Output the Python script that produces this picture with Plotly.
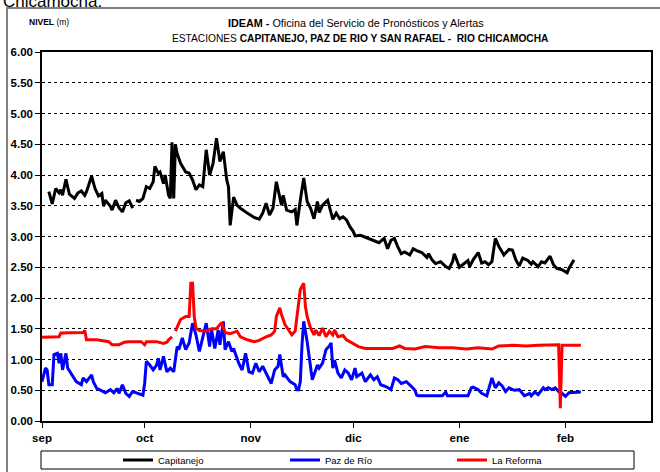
import pandas as pd
import plotly.graph_objects as go

# ---------------- data ----------------
inicio = "2010-09-01"  # day 0 of the series

meses_fechas = ["2010-09-01", "2010-10-01", "2010-11-01", "2010-12-01", "2011-01-01", "2011-02-01"]
meses_etiquetas = ["sep", "oct", "nov", "dic", "ene", "feb"]

y_ticks = [0.0, 0.5, 1.0, 1.5, 2.0, 2.5, 3.0, 3.5, 4.0, 4.5, 5.0, 5.5, 6.0]

capitanejo_dia = [2.0, 3.0, 4.0, 5.0, 5.5, 6.0, 7.0, 7.5, 8.0, 9.5, 10.5, 11.5, 12.5, 13.0, 14.5, 15.5, 16.5, 17.5, 18.0,
                  18.5, 20.0, 20.5, 21.5, 22.5, 23.5, 24.5, 25.5, 26.5, 27.0, 27.5, 28.5, 29.5, 30.5, 31.5, 32.5, 33.0,
                  34.0, 34.5, 35.5, 36.0, 37.0, 37.5, 38.0, 38.5, 39.0, 39.5, 40.5, 42.0, 43.0, 44.0, 45.0, 46.0, 47.0,
                  48.0, 49.0, 50.0, 51.0, 52.0, 53.0, 54.0, 54.5, 55.0, 56.0, 57.0, 58.0, 60.0, 61.0, 62.0, 63.5, 64.5,
                  65.5, 66.5, 67.5, 68.5, 70.0, 70.5, 71.5, 73.0, 74.0, 74.5, 75.5, 76.5, 77.5, 78.5, 79.5, 80.5, 81.0,
                  82.0, 83.5, 84.5, 85.0, 86.0, 87.0, 88.0, 89.0, 90.0, 91.0, 91.5, 93.0, 94.0, 95.5, 97.0, 98.5, 100.0,
                  101.0, 102.0, 103.0, 104.0, 105.0, 106.0, 107.5, 108.5, 109.5, 111.0, 112.5, 113.0, 114.0, 115.0,
                  116.5, 118.0, 119.0, 120.0, 120.5, 122.0, 123.5, 124.5, 125.0, 126.0, 127.5, 128.5, 129.5, 130.5,
                  131.5, 132.5, 133.5, 135.0, 136.5, 137.5, 138.5, 139.5, 140.5, 142.0, 143.0, 143.5, 145.0, 146.0,
                  147.0, 148.5, 149.5, 150.5, 152.0, 153.5, 154.0, 155.5]
capitanejo_nivel = [3.73, 3.53, 3.78, 3.71, 3.76, 3.67, 3.93, 3.78, 3.69, 3.62, 3.71, 3.74, 3.67, 3.73, 3.98, 3.78, 3.66,
                    3.70, 3.49, 3.59, 3.49, 3.43, 3.59, 3.47, 3.40, 3.55, 3.58, 3.46, None, 3.59, 3.57, 3.62, 3.81,
                    3.78, 3.89, 4.14, 4.03, 4.05, 3.86, 4.00, 3.67, 3.62, 4.53, 3.62, 4.49, 4.35, 4.19, 4.05, 4.03,
                    3.92, 3.76, 3.84, 3.81, 4.41, 4.00, 4.19, 4.60, 4.22, 4.38, 3.92, 3.81, 3.18, 3.64, 3.51, 3.46,
                    3.38, 3.35, 3.31, 3.28, 3.38, 3.54, 3.35, 3.46, 3.89, 3.51, 3.67, 3.43, 3.40, 3.44, 3.18, 3.59,
                    3.95, 3.57, 3.46, 3.29, 3.57, 3.39, 3.51, 3.59, 3.38, 3.28, 3.38, 3.29, 3.32, 3.27, 3.16, 3.08,
                    3.01, 3.02, 3.00, 2.97, 2.94, 2.90, 2.97, 2.80, 2.94, 2.97, 2.83, 2.72, 2.75, 2.70, 2.80, 2.77,
                    2.74, 2.66, 2.72, 2.62, 2.56, 2.59, 2.51, 2.48, 2.59, 2.72, 2.50, 2.57, 2.61, 2.51, 2.62, 2.74,
                    2.57, 2.59, 2.54, 2.59, 2.97, 2.84, 2.70, 2.79, 2.78, 2.62, 2.52, 2.65, 2.61, 2.55, 2.59, 2.51,
                    2.59, 2.57, 2.68, 2.54, 2.48, 2.46, 2.41, 2.48, 2.62]

paz_dia = [0.0, 1.0, 1.5, 2.0, 3.0, 3.5, 4.5, 5.0, 5.5, 6.0, 6.5, 7.0, 7.5, 8.5, 10.0, 11.5, 12.0, 13.0, 14.0, 14.5, 15.0,
           16.0, 17.5, 18.5, 20.0, 21.0, 22.0, 22.5, 23.5, 24.5, 25.5, 26.5, 28.0, 29.5, 30.0, 30.5, 31.5, 32.5, 33.5,
           34.0, 34.5, 35.5, 36.5, 37.5, 38.5, 39.0, 39.5, 40.0, 41.0, 42.0, 43.0, 44.0, 45.0, 46.0, 47.0, 48.0, 49.0,
           49.5, 50.5, 51.5, 52.0, 53.0, 53.5, 54.5, 55.5, 56.0, 57.0, 57.5, 58.5, 59.5, 60.5, 61.5, 62.5, 63.5, 64.5,
           65.5, 67.0, 68.0, 69.0, 69.5, 70.5, 71.0, 72.5, 74.0, 74.5, 75.0, 75.5, 76.0, 76.5, 77.5, 78.0, 79.0, 80.0,
           80.5, 81.0, 82.0, 83.0, 84.0, 84.5, 85.0, 85.5, 86.5, 87.5, 88.5, 89.5, 90.5, 91.5, 92.0, 93.5, 94.5, 96.0,
           97.0, 98.0, 99.0, 100.5, 102.0, 103.0, 104.0, 105.0, 106.5, 108.0, 109.0, 109.5, 110.0, 113.0, 117.0,
           118.0, 118.5, 121.0, 124.5, 125.5, 126.0, 127.5, 128.5, 130.0, 130.5, 131.5, 132.5, 133.5, 134.5, 135.5,
           136.5, 138.0, 139.5, 141.0, 142.5, 143.0, 144.0, 145.0, 146.5, 147.0, 148.0, 149.0, 150.0, 151.0, 152.0,
           153.0, 154.0, 157.5]
paz_nivel = [0.64, 0.86, 0.83, 0.59, 0.59, 1.08, 1.10, 0.94, 1.10, 0.83, 0.97, 1.10, 0.86, 0.78, 0.64, 0.59, 0.70, 0.64,
             0.72, 0.75, 0.64, 0.53, 0.49, 0.46, 0.51, 0.46, 0.53, 0.45, 0.59, 0.45, 0.40, 0.48, 0.45, 0.42, 0.61, 0.97,
             0.91, 0.83, 0.91, 1.02, 0.83, 1.05, 0.80, 0.86, 0.80, 1.02, 1.21, 1.16, 1.35, 1.16, 1.27, 1.59, 1.40, 1.13,
             1.37, 1.59, 1.21, 1.51, 1.18, 1.48, 1.24, 1.62, 1.16, 1.29, 1.13, 1.18, 1.02, 0.94, 0.83, 1.10, 0.80, 0.78,
             0.94, 0.80, 0.89, 0.78, 0.61, 0.83, 0.89, 1.08, 0.72, 0.75, 0.64, 0.59, 0.51, 0.51, 0.64, 1.24, 1.62, 1.29,
             1.08, 0.67, 0.83, 0.91, 0.86, 0.94, 1.16, 1.22, 1.27, 0.86, 0.99, 0.78, 0.70, 0.83, 0.78, 0.67, 0.86, 0.72,
             0.78, 0.64, 0.75, 0.67, 0.72, 0.59, 0.56, 0.51, 0.70, 0.67, 0.61, 0.64, 0.56, 0.50, 0.42, 0.41, 0.41, 0.41,
             0.47, 0.41, 0.41, 0.41, 0.54, 0.55, 0.51, 0.45, 0.41, 0.51, 0.70, 0.54, 0.62, 0.57, 0.48, 0.54, 0.50, 0.51,
             0.41, 0.45, 0.41, 0.47, 0.43, 0.54, 0.51, 0.54, 0.51, 0.54, 0.48, 0.45, 0.40, 0.46, 0.47]

reforma_dia = [0.0, 5.0, 5.5, 9.0, 12.0, 12.5, 13.0, 16.0, 19.5, 20.5, 22.5, 24.0, 25.5, 29.0, 30.0, 30.5, 33.5, 35.5,
               36.5, 37.0, 38.0, 38.5, 39.0, 40.5, 42.0, 43.0, 43.5, 44.0, 44.5, 45.0, 46.0, 48.0, 49.5, 51.0, 52.5,
               53.5, 55.0, 57.0, 58.0, 60.0, 62.0, 63.5, 65.5, 67.0, 68.0, 68.5, 69.5, 70.0, 71.0, 72.0, 73.0, 74.0,
               74.5, 75.5, 76.5, 77.0, 77.5, 78.5, 79.5, 80.0, 81.0, 82.0, 83.0, 84.0, 85.0, 85.5, 86.5, 88.0, 89.0,
               91.0, 92.5, 94.5, 97.5, 100.5, 102.5, 104.5, 106.0, 109.0, 112.0, 116.0, 120.0, 124.0, 127.5, 131.5,
               133.5, 137.5, 141.5, 145.0, 149.0, 151.0, 151.5, 152.0, 157.5]
reforma_nivel = [1.36, 1.37, 1.43, 1.44, 1.44, 1.47, 1.32, 1.32, 1.29, 1.24, 1.24, 1.28, 1.29, 1.29, 1.24, 1.29, 1.29,
                 1.26, 1.28, 1.32, 1.37, None, 1.46, 1.65, 1.70, 1.70, 2.24, 2.24, 1.70, 1.51, 1.47, 1.46, 1.50, 1.50,
                 1.60, 1.44, 1.42, 1.46, 1.37, 1.32, 1.29, 1.31, 1.37, 1.40, 1.46, 1.70, 1.84, 1.73, 1.57, 1.48, 1.40,
                 1.46, 1.70, 2.14, 2.24, 1.86, 1.70, 1.51, 1.40, 1.48, 1.39, 1.51, 1.37, 1.46, 1.40, 1.48, 1.37, 1.39,
                 1.32, 1.26, 1.21, 1.18, 1.18, 1.17, 1.18, 1.22, 1.18, 1.17, 1.21, 1.19, 1.19, 1.17, 1.19, 1.17, 1.22,
                 1.23, 1.22, 1.23, 1.24, 1.24, 0.21, 1.23, 1.23]

x_fin = "2011-02-26"

# ---------------- figure ----------------
W, H = 660, 472
ML, MR, MT, MB = 42, 9, 52, 51
PW, PH = W - ML - MR, H - MT - MB


def px_x(x):
    return (x - ML) / PW


def px_y(y):
    return (H - MB - y) / PH


def fechas(dias):
    base = pd.Timestamp(inicio)
    return [base + pd.Timedelta(hours=24 * d) for d in dias]


NARROW = "Liberation Sans Narrow, Arial Narrow, Liberation Sans, Arial, sans-serif"
ARIAL = "Liberation Sans, Arial, sans-serif"

fig = go.Figure()
series = [
    ("Capitanejo", capitanejo_dia, capitanejo_nivel, "#000000"),
    ("Paz de Río", paz_dia, paz_nivel, "#0000FF"),
    ("La Reforma", reforma_dia, reforma_nivel, "#FF0000"),
]
for nombre, dias, nivel, color in series:
    fig.add_trace(go.Scatter(
        x=fechas(dias), y=nivel, name=nombre, mode="lines",
        line=dict(color=color, width=3), connectgaps=False,
    ))

fig.update_layout(
    width=W, height=H,
    margin=dict(l=ML, r=MR, t=MT, b=MB, pad=0, autoexpand=False),
    paper_bgcolor="white", plot_bgcolor="white",
    showlegend=True,
    legend=dict(
        orientation="h", x=px_x(118), xanchor="left", y=px_y(460), yanchor="middle",
        font=dict(family=NARROW, size=9.5, color="black"),
        bgcolor="rgba(0,0,0,0)", borderwidth=0,
        entrywidth=122, entrywidthmode="pixels", itemwidth=30,
    ),
    xaxis=dict(
        type="date", range=[inicio, x_fin],
        tickvals=meses_fechas, ticktext=meses_etiquetas,
        ticks="outside", ticklen=5, tickwidth=1, tickcolor="black",
        tickfont=dict(family=ARIAL, size=11.5, color="black", weight="bold"),
        showgrid=False, showline=True, linecolor="black", linewidth=1.5, mirror=True,
        zeroline=False,
    ),
    yaxis=dict(
        range=[0, 6], tickvals=y_ticks, tickformat=".2f",
        ticks="outside", ticklen=5, tickwidth=1, tickcolor="black",
        tickfont=dict(family=ARIAL, size=11.5, color="black", weight="bold"),
        showgrid=True, gridcolor="black", gridwidth=1, griddash="dot",
        showline=True, linecolor="black", linewidth=1.5, mirror=True,
        zeroline=False,
    ),
)

# outer frame of the embedded chart and the legend box
fig.add_shape(type="rect", xref="paper", yref="paper",
              x0=px_x(7), x1=px_x(720), y0=px_y(520), y1=px_y(8),
              line=dict(color="#808080", width=2), fillcolor="rgba(0,0,0,0)", layer="below")
fig.add_shape(type="rect", xref="paper", yref="paper",
              x0=px_x(41), x1=px_x(634), y0=px_y(469), y1=px_y(451),
              line=dict(color="black", width=1), fillcolor="rgba(0,0,0,0)")

annots = [
    dict(text="Chicamocha.", x=px_x(1), y=px_y(2), xanchor="left", yanchor="middle",
         font=dict(family=ARIAL, size=17, color="black")),
    dict(text="<b>NIVEL</b> (m)", x=px_x(27), y=px_y(22), xanchor="left", yanchor="middle",
         font=dict(family=NARROW, size=8.5, color="black")),
    dict(text="<b>IDEAM - </b>Oficina del Servicio de Pronósticos y Alertas", x=px_x(356), y=px_y(23),
         xanchor="center", yanchor="middle", font=dict(family=NARROW, size=10.8, color="black")),
    dict(text="ESTACIONES <b>CAPITANEJO, PAZ DE RIO Y SAN RAFAEL -  RIO CHICAMOCHA</b>", x=px_x(360), y=px_y(39),
         xanchor="center", yanchor="middle", font=dict(family=NARROW, size=10.2, color="black")),
]
for a in annots:
    fig.add_annotation(xref="paper", yref="paper", showarrow=False, **a)

# the page is shown edge to edge, like the reference picture
fig.write_html("out.html", config={"displayModeBar": False},
               post_script="document.body.style.margin='0px';")
